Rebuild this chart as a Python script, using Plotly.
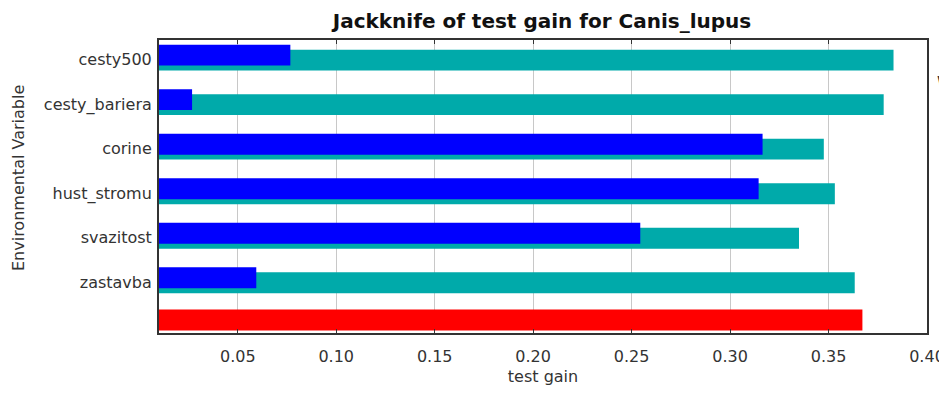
import plotly.graph_objects as go

variables = ["cesty500", "cesty_bariera", "corine", "hust_stromu", "svazitost", "zastavba"]
without_var = [0.383, 0.378, 0.3476, 0.3532, 0.335, 0.3633]
with_only = [0.0767, 0.0268, 0.3165, 0.3145, 0.2544, 0.0594]
with_all = 0.3672
x_ticks = [0.05, 0.10, 0.15, 0.20, 0.25, 0.30, 0.35, 0.40]
legend_texts = ["Without variable", "With only variable"]

rows = list(range(len(variables)))
FONT = "DejaVu Sans"
TEAL = "#00AAAA"
BLUE = "#0000FF"
RED = "#FF0000"
BAR_W = 0.47

fig = go.Figure()
fig.add_trace(go.Bar(
    y=rows, x=without_var, orientation="h", base=0,
    width=BAR_W, offset=-0.092,
    marker=dict(color=TEAL, line=dict(width=0)),
    name="Without variable", showlegend=False,
))
fig.add_trace(go.Bar(
    y=rows, x=with_only, orientation="h", base=0,
    width=BAR_W, offset=-0.204,
    marker=dict(color=BLUE, line=dict(width=0)),
    name="With only variable", showlegend=False,
))
fig.add_trace(go.Bar(
    y=[len(variables)], x=[with_all], orientation="h", base=0,
    width=BAR_W, offset=-0.255,
    marker=dict(color=RED, line=dict(width=0)),
    name="With all variables", showlegend=False,
))

# page has an 8px body margin: figure coords = page coords - 8
W, H = 939, 378
yr = [6.273, -0.309]
L, R, T, B = 151, 20, 31.5, 52.5
PW, PH = W - L - R, H - T - B
fig.update_layout(
    width=W, height=H,
    margin=dict(l=L, r=R, t=T, b=B, autoexpand=False),
    paper_bgcolor="white", plot_bgcolor="white",
    barmode="overlay",
    font=dict(family=FONT, size=16, color="#333333"),
    title=dict(text="<b>Jackknife of test gain for Canis_lupus</b>",
               x=(534 / W), xref="container", xanchor="center",
               y=1 - 13 / H, yref="container", yanchor="middle",
               font=dict(family=FONT, size=20, color="#111111")),
    xaxis=dict(
        range=[0.01, 0.40], tickvals=x_ticks, tickformat=".2f",
        ticks="inside", ticklen=4, tickcolor="#333333", tickwidth=1,
        showline=True, linecolor="#333333", linewidth=2, mirror="allticks",
        showgrid=True, gridcolor="#C8C8C8", gridwidth=1, zeroline=False,
        title=dict(text="test gain", standoff=11, font=dict(size=16)),
        tickfont=dict(size=16), ticklabelstandoff=8, automargin=False,
    ),
    yaxis=dict(
        range=yr, tickvals=[r + 0.13 for r in rows], ticktext=variables,
        ticks="", showgrid=False, zeroline=False,
        showline=True, linecolor="#333333", linewidth=2, mirror=True,
        tickfont=dict(size=16), ticklabelstandoff=2, automargin=False,
    ),
    yaxis2=dict(
        range=yr, overlaying="y", side="right", anchor="x",
        tickvals=rows, showticklabels=False,
        ticks="inside", ticklen=4, tickcolor="#333333",
        showgrid=True, gridcolor="#C8C8C8", gridwidth=1, zeroline=False,
        showline=False, automargin=False,
    ),
)

# y-axis title
fig.add_annotation(text="Environmental Variable", xref="paper", yref="paper",
                   x=(10 - L) / PW, xanchor="center",
                   y=1 - (170 - T) / PH, yanchor="middle", textangle=-90,
                   showarrow=False, font=dict(family=FONT, size=16, color="#333333"))

for i, t in enumerate(legend_texts):
    fig.add_annotation(text=t, xref="paper", yref="paper",
                       x=(927 + 4 * i - L) / PW, xanchor="left",
                       y=1 - ((74 + 24 * i) - T) / PH, yanchor="middle",
                       showarrow=False, font=dict(family=FONT, size=16, color="#333333"))

fig.write_html("out.html")
